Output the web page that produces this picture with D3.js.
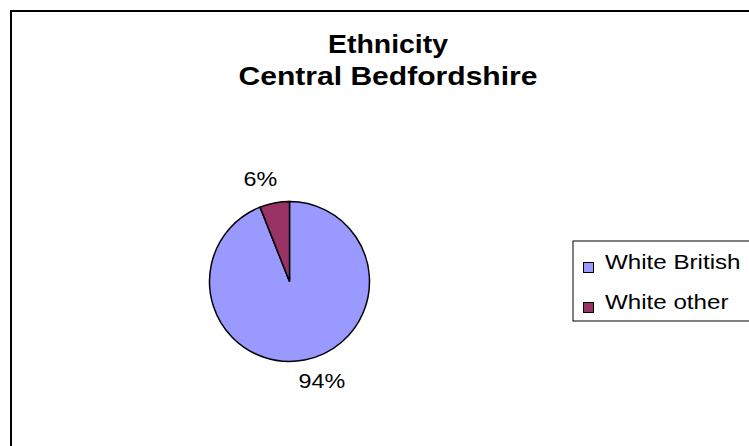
<!DOCTYPE html>
<html>
<head>
<meta charset="utf-8">
<script src="https://cdn.jsdelivr.net/npm/d3@7"></script>
<style>
  body { margin: 0; background: #fff; }
  svg { display: block; font-family: "Liberation Sans", Arial, sans-serif; }
</style>
</head>
<body>
<div class="chart"></div>
<script>
// data
var categories = ["White British", "White other"];
var shares = [94, 6];
var colours = ["#9999FF", "#993366"];
var titleLines = ["Ethnicity", "Central Bedfordshire"];

var width = 749, height = 446;

var svg = d3.select("div.chart")
  .append("svg")
  .attr("width", width)
  .attr("height", height);

// the original text is drawn a bit wider than plain Arial, so stretch it
function stretch(sel, k) {
  sel.attr("textLength", function () { return this.getComputedTextLength() * k; })
    .attr("lengthAdjust", "spacingAndGlyphs");
}

// outer chart frame (runs off the right and bottom edge)
svg.append("rect")
  .attr("x", 11).attr("y", 11)
  .attr("width", 800).attr("height", 500)
  .style("fill", "#fff")
  .style("stroke", "#000")
  .style("stroke-width", 2);

// title
var titleWidths = [120, 299];
svg.selectAll("text.title")
  .data(titleLines).enter()
  .append("text")
  .attr("class", "title")
  .attr("x", 388)
  .attr("y", function (d, i) { return 53 + i * 32; })
  .attr("text-anchor", "middle")
  .style("font-weight", "bold")
  .style("font-size", "25px")
  .text(function (d) { return d; })
  .attr("textLength", function (d, i) { return titleWidths[i]; })
  .attr("lengthAdjust", "spacingAndGlyphs");

var data = categories.map(function (c, i) {
  return { name: c, value: shares[i], colour: colours[i] };
});

var pie = d3.pie().sort(null).value(function (d) { return d.value; });
var radius = 80;
var arc = d3.arc().innerRadius(0).outerRadius(radius);

var g = svg.append("g")
  .attr("transform", "translate(289.5,281.5)");

var arcs = pie(data);

g.selectAll("path")
  .data(arcs).enter()
  .append("path")
  .attr("d", arc)
  .style("fill", function (d) { return d.data.colour; })
  .style("stroke", "#000")
  .style("stroke-width", 1.5);

// percentage labels outside the pie
var total = d3.sum(shares);
var labelArc = d3.arc().innerRadius(105).outerRadius(105);
g.selectAll("text.pct")
  .data(arcs).enter()
  .append("text")
  .attr("class", "pct")
  .attr("transform", function (d) {
    var c = labelArc.centroid(d);
    // small nudges so labels sit as in the original
    if (d.data.value > 50) return "translate(" + (c[0] + 12.6) + "," + (c[1] + 3.7) + ")";
    return "translate(" + (c[0] - 9.5) + "," + (c[1] + 7.5) + ")";
  })
  .attr("text-anchor", "middle")
  .style("font-size", "21px")
  .text(function (d) { return Math.round(d.data.value / total * 100) + "%"; })
  .call(stretch, 1.11);

// legend
var legend = svg.append("g").attr("transform", "translate(573,241)");
legend.append("rect")
  .attr("x", 0).attr("y", 0)
  .attr("width", 200).attr("height", 80)
  .style("fill", "#fff")
  .style("stroke", "#000")
  .style("stroke-width", 1);

var item = legend.selectAll("g.item")
  .data(data).enter()
  .append("g")
  .attr("class", "item")
  .attr("transform", function (d, i) { return "translate(0," + (i * 40) + ")"; });

item.append("rect")
  .attr("x", 10.5).attr("y", 21.5)
  .attr("width", 10).attr("height", 10)
  .style("fill", function (d) { return d.colour; })
  .style("stroke", "#000")
  .style("stroke-width", 1);

item.append("text")
  .attr("x", 32)
  .attr("y", 28)
  .style("font-size", "21px")
  .text(function (d) { return d.name; })
  .call(stretch, 1.15);
</script>
</body>
</html>
